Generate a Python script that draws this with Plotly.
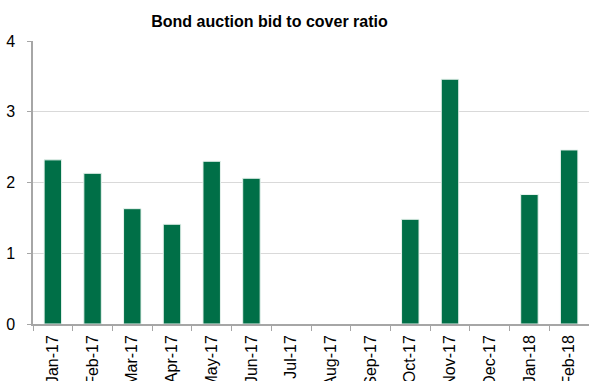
import plotly.graph_objects as go

categories = ["Jan-17", "Feb-17", "Mar-17", "Apr-17", "May-17", "Jun-17", "Jul-17",
              "Aug-17", "Sep-17", "Oct-17", "Nov-17", "Dec-17", "Jan-18", "Feb-18"]
bid_to_cover = [2.32, 2.13, 1.63, 1.41, 2.30, 2.06, None, None, None, 1.48, 3.46, None, 1.83, 2.46]
y_ticks = [0, 1, 2, 3, 4]

fig = go.Figure()
fig.add_trace(go.Bar(
    x=categories, y=bid_to_cover,
    marker=dict(color="#006f47", line=dict(color="#e8f3ee", width=1)),
))

fig.update_layout(
    width=589, height=381,
    margin=dict(l=33, r=0, t=41, b=57, autoexpand=False),
    paper_bgcolor="white", plot_bgcolor="white",
    bargap=0.56,
    showlegend=False,
    font=dict(family="Liberation Sans, Arial, sans-serif", color="black"),
    title=dict(text="<b>Bond auction bid to cover ratio</b>", xref="container", yref="container",
               x=269.5 / 589, xanchor="center", y=1 - 21 / 381, yanchor="middle",
               font=dict(size=16, color="black")),
)
fig.update_xaxes(
    type="category", tickangle=-90, tickfont=dict(size=16),
    showline=True, linecolor="#a6a6a6", linewidth=1.5,
    ticks="outside", tickson="boundaries", ticklen=5, tickcolor="#a6a6a6",
    showgrid=False, automargin=False, ticklabelstandoff=3,
)
fig.update_yaxes(
    range=[0, 4], tickvals=y_ticks, tickfont=dict(size=16),
    showline=True, linecolor="#a6a6a6", linewidth=1.5,
    ticks="outside", ticklen=4, tickcolor="#a6a6a6",
    showgrid=True, gridcolor="#d9d9d9", gridwidth=1,
    zeroline=False, automargin=False, ticklabelstandoff=9,
)

fig.write_html("out.html")
